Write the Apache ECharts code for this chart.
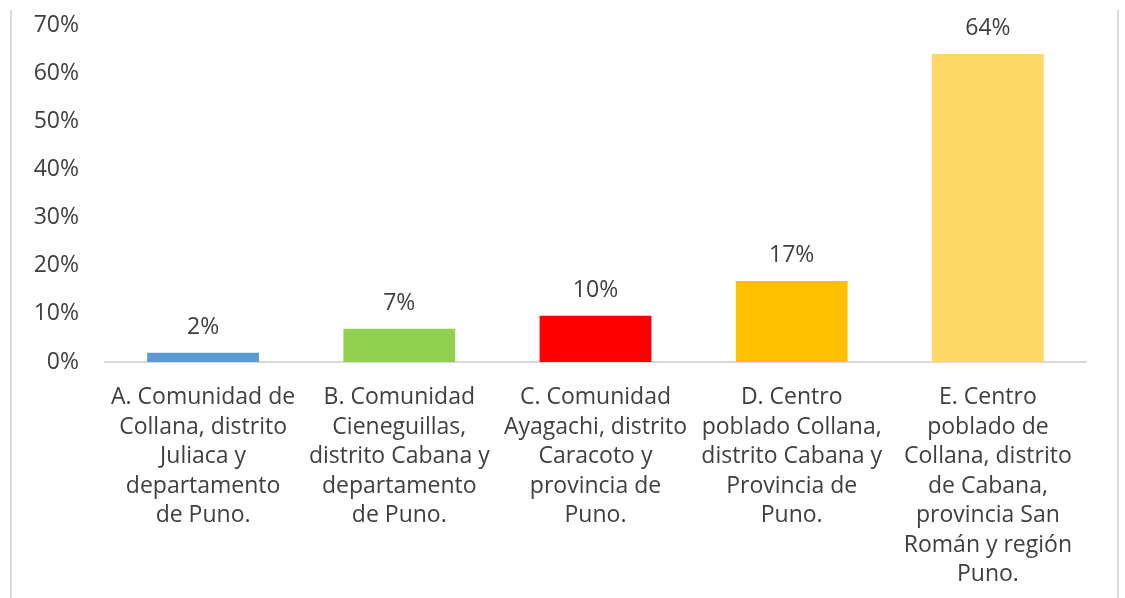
<!DOCTYPE html>
<html>
<head>
<meta charset="utf-8">
<script src="https://cdn.jsdelivr.net/npm/echarts@6/dist/echarts.min.js"></script>
<style>
html,body{margin:0;padding:0;background:#fff;}
#chart{width:1125px;height:598px;}
</style>
</head>
<body>
<div id="chart"></div>
<script>
var categories = [
  "A. Comunidad de\nCollana, distrito\nJuliaca y\ndepartamento\nde Puno.",
  "B. Comunidad\nCieneguillas,\ndistrito Cabana y\ndepartamento\nde Puno.",
  "C. Comunidad\nAyagachi, distrito\nCaracoto y\nprovincia de\nPuno.",
  "D. Centro\npoblado Collana,\ndistrito Cabana y\nProvincia de\nPuno.",
  "E. Centro\npoblado de\nCollana, distrito\nde Cabana,\nprovincia San\nRomán y región\nPuno."
];
var values = [1.9, 6.9, 9.6, 16.8, 64.0];
var colors = ["#5B9BD5", "#92D050", "#FF0000", "#FFC000", "#FFD966"];
var yTicks = [0, 10, 20, 30, 40, 50, 60, 70];

var font = "'Open Sans', 'Liberation Sans', sans-serif";
var chart = echarts.init(document.getElementById('chart'), null, {renderer: 'canvas'});
chart.setOption({
  animation: false,
  backgroundColor: '#fff',
  grid: {left: 105, right: 39, top: 25, bottom: 236, containLabel: false},
  graphic: [
    {type: 'line', shape: {x1: 11, y1: 10, x2: 11, y2: 598}, style: {stroke: '#d9d9d9', lineWidth: 2}},
    {type: 'line', shape: {x1: 1118, y1: 10, x2: 1118, y2: 598}, style: {stroke: '#d9d9d9', lineWidth: 2}}
  ],
  xAxis: {
    type: 'category',
    data: categories,
    axisLine: {show: true, lineStyle: {color: '#d9d9d9', width: 2}},
    axisTick: {show: false},
    axisLabel: {
      interval: 0, margin: 21, color: '#404040', fontSize: 23, lineHeight: 29.5,
      fontFamily: font, align: 'center', verticalAlign: 'top'
    }
  },
  yAxis: {
    type: 'value',
    min: yTicks[0], max: yTicks[yTicks.length - 1], interval: 10,
    splitLine: {show: false},
    axisLine: {show: false},
    axisTick: {show: false},
    axisLabel: {
      formatter: function (v) { return v + '%'; },
      color: '#404040', fontSize: 23, fontFamily: font, margin: 26
    }
  },
  series: [{
    type: 'bar',
    barWidth: '57%',
    data: values.map(function (v, i) { return {value: v, itemStyle: {color: colors[i]}}; }),
    label: {
      show: true, position: 'top', distance: 14,
      formatter: function (p) { return Math.round(p.value) + '%'; },
      color: '#404040', fontSize: 23, fontFamily: font
    }
  }]
});
</script>
</body>
</html>
